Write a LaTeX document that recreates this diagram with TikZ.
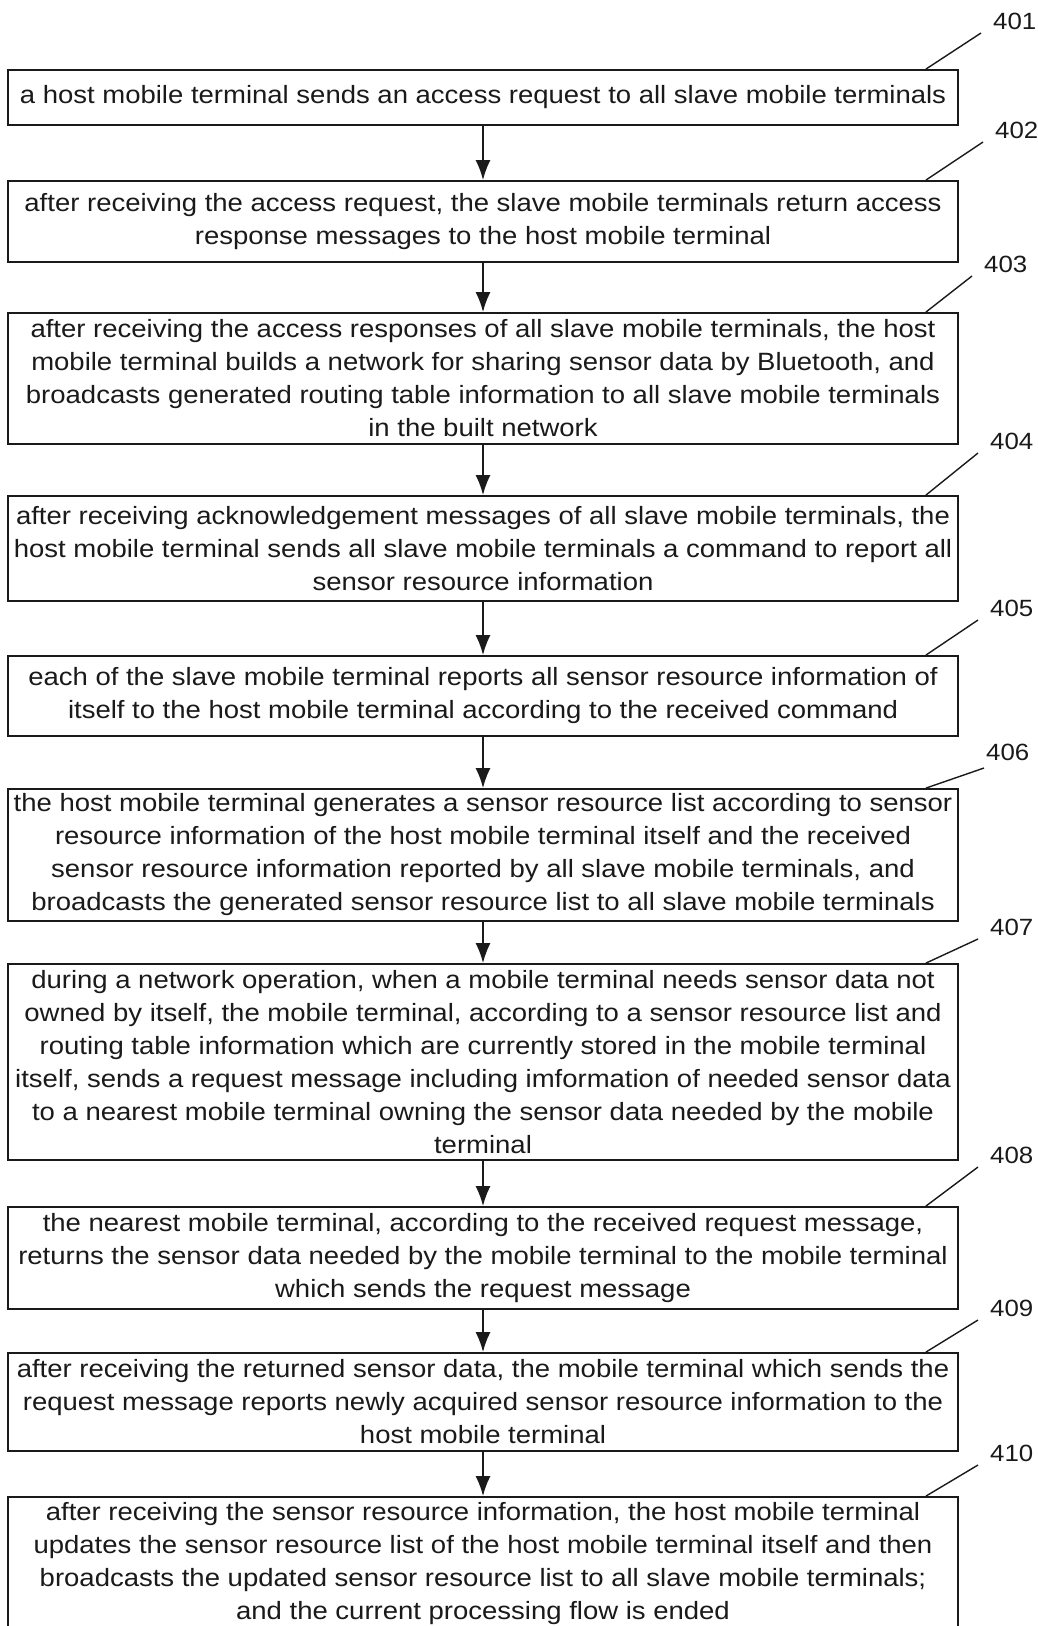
\documentclass[tikz,border=0pt]{standalone}
\usepackage{fontspec}
\setmainfont[FakeStretch=1.1]{Liberation Sans}
\usetikzlibrary{arrows.meta}
\definecolor{ink}{HTML}{1A1A1A}
\tikzset{
  stepbox/.style={draw=ink, line width=1.8pt, text=ink, align=center,
    minimum width=950pt, inner sep=0pt,
    font=\fontsize{25}{33}\selectfont},
  flow/.style={draw=ink, line width=1.8pt, -{Latex[length=20pt,width=15pt]}},
  refnum/.style={text=ink, inner sep=0pt, anchor=south west,
    font=\fontsize{23.5}{24}\selectfont},
  leader/.style={draw=ink, line width=1.4pt}
}
\begin{document}
\begin{tikzpicture}[x=1pt, y=-1pt]
\clip (0,0) rectangle (1038,1626);
\fill[white] (0,0) rectangle (1038,1626);

% process steps
\node[stepbox, minimum height=55pt] (b1) at (483,97.5)
  {a host mobile terminal sends an access request to all slave mobile terminals};
\node[stepbox, minimum height=81pt] (b2) at (483,221.5)
  {after receiving the access request, the slave mobile terminals return access\\
   response messages to the host mobile terminal};
\node[stepbox, minimum height=131pt] (b3) at (483,378.5)
  {after receiving the access responses of all slave mobile terminals, the host\\
   mobile terminal builds a network for sharing sensor data by Bluetooth, and\\
   broadcasts generated routing table information to all slave mobile terminals\\
   in the built network};
\node[stepbox, minimum height=105pt] (b4) at (483,548.5)
  {after receiving acknowledgement messages of all slave mobile terminals, the\\
   host mobile terminal sends all slave mobile terminals a command to report all\\
   sensor resource information};
\node[stepbox, minimum height=80pt] (b5) at (483,696)
  {each of the slave mobile terminal reports all sensor resource information of\\
   itself to the host mobile terminal according to the received command};
\node[stepbox, minimum height=132pt] (b6) at (483,855)
  {the host mobile terminal generates a sensor resource list according to sensor\\
   resource information of the host mobile terminal itself and the received\\
   sensor resource information reported by all slave mobile terminals, and\\
   broadcasts the generated sensor resource list to all slave mobile terminals};
\node[stepbox, minimum height=196pt] (b7) at (483,1062)
  {during a network operation, when a mobile terminal needs sensor data not\\
   owned by itself, the mobile terminal, according to a sensor resource list and\\
   routing table information which are currently stored in the mobile terminal\\
   itself, sends a request message including imformation of needed sensor data\\
   to a nearest mobile terminal owning the sensor data needed by the mobile\\
   terminal};
\node[stepbox, minimum height=102pt] (b8) at (483,1258)
  {the nearest mobile terminal, according to the received request message,\\
   returns the sensor data needed by the mobile terminal to the mobile terminal\\
   which sends the request message};
\node[stepbox, minimum height=98pt] (b9) at (483,1402)
  {after receiving the returned sensor data, the mobile terminal which sends the\\
   request message reports newly acquired sensor resource information to the\\
   host mobile terminal};
\node[stepbox, minimum height=134pt] (b10) at (483,1564)
  {after receiving the sensor resource information, the host mobile terminal\\
   updates the sensor resource list of the host mobile terminal itself and then\\
   broadcasts the updated sensor resource list to all slave mobile terminals;\\
   and the current processing flow is ended};

% flow arrows
\foreach \a/\b in {b1/b2,b2/b3,b3/b4,b4/b5,b5/b6,b6/b7,b7/b8,b8/b9,b9/b10}
  \draw[flow] (\a.south) -- (\b.north);

% reference numerals with leader lines
\node[refnum] (n1)  at (993,30)   {401};
\node[refnum] (n2)  at (995,139)  {402};
\node[refnum] (n3)  at (984,273)  {403};
\node[refnum] (n4)  at (990,450)  {404};
\node[refnum] (n5)  at (990,617)  {405};
\node[refnum] (n6)  at (986,761)  {406};
\node[refnum] (n7)  at (990,936)  {407};
\node[refnum] (n8)  at (990,1164) {408};
\node[refnum] (n9)  at (990,1317) {409};
\node[refnum] (n10) at (990,1462) {410};

\foreach \b/\n in {b1/n1,b2/n2,b3/n3,b4/n4,b5/n5,b7/n7,b8/n8,b9/n9,b10/n10}
  \draw[leader] ([xshift=-33pt]\b.north east) -- ([shift={(-12pt,-3pt)}]\n.south west);
\draw[leader] ([xshift=-33pt]b6.north east) -- ([shift={(-2pt,-7pt)}]n6.south west);
\end{tikzpicture}
\end{document}
